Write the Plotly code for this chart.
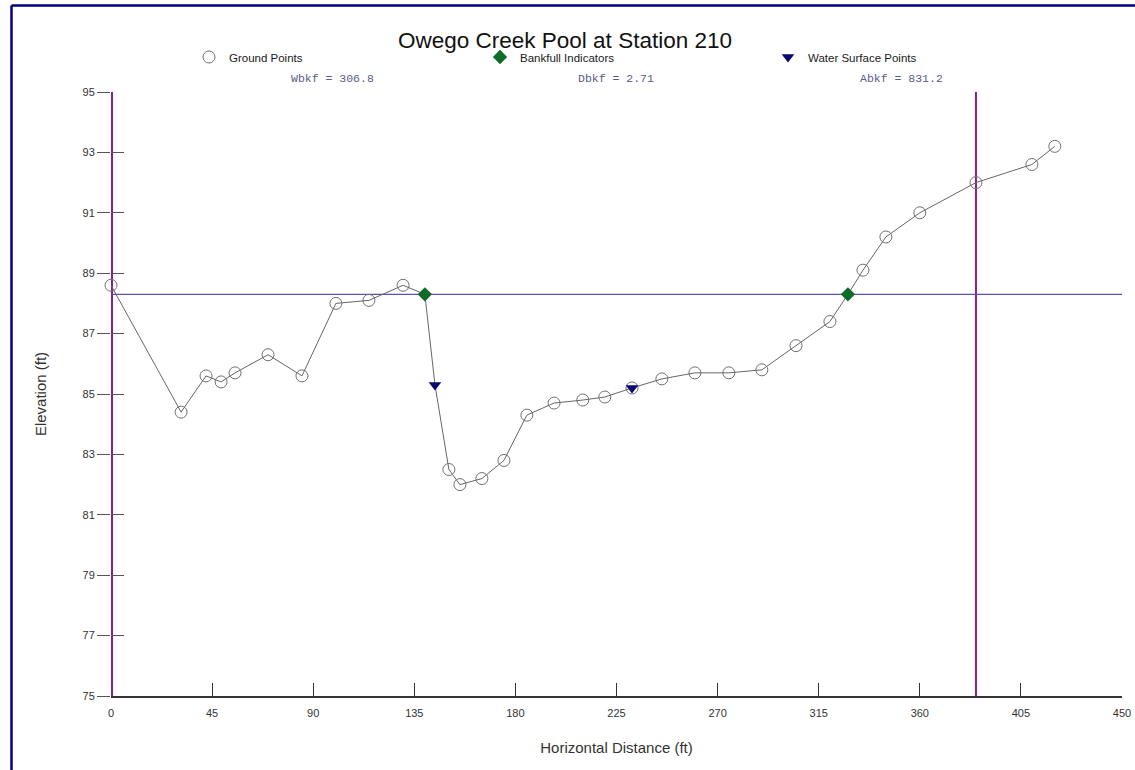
import plotly.graph_objects as go

# ---- data ----
ground_x = [0, 31.2, 42.3, 49, 55.2, 69.9, 85, 100.1, 114.8, 130, 150.4, 155.3, 165.1, 174.9,
            185.1, 197.2, 210, 219.8, 231.9, 245.2, 259.9, 275, 289.7, 304.9, 320, 334.7,
            344.9, 360, 385, 409.9, 420.1]
ground_y = [88.6, 84.4, 85.6, 85.4, 85.7, 86.3, 85.6, 88.0, 88.1, 88.6, 82.5, 82.0, 82.2, 82.8,
            84.3, 84.7, 84.8, 84.9, 85.2, 85.5, 85.7, 85.7, 85.8, 86.6, 87.4, 89.1,
            90.2, 91.0, 92.0, 92.6, 93.2]
bankfull_x = [139.7, 328.0]
bankfull_y = [88.3, 88.3]
ws_x = [144.2, 231.9]
ws_y = [85.3, 85.2]
bankfull_elev = 88.3
bankfull_line_x = [0, 450]
limit_x = [0, 385]
y_range = [75, 95]
x_range = [0, 450]
x_ticks = [0, 45, 90, 135, 180, 225, 270, 315, 360, 405, 450]
y_ticks = [75, 77, 79, 81, 83, 85, 87, 89, 91, 93, 95]
stats = ["Wbkf = 306.8", "Dbkf = 2.71", "Abkf = 831.2"]
title = "Owego Creek Pool at Station 210"

# ---- layout geometry (pixels) ----
W, H = 1135, 770
L, R, T, B = 111, 13, 92, 74
PW, PH = W - L - R, H - T - B
def px_x(p):
    return (p - L) / PW
def px_y(p):
    return (H - B - p) / PH

# profile line through all surveyed points
prof = sorted(set(zip(ground_x + bankfull_x + ws_x, ground_y + bankfull_y + ws_y)))
prof_x = [p[0] for p in prof]
prof_y = [p[1] for p in prof]

fig = go.Figure()

# limit (vertical) lines
for lx in limit_x:
    fig.add_trace(go.Scatter(x=[lx, lx], y=y_range, mode="lines",
                             line=dict(color="#8E1B8C", width=2 if lx > 0 else 4),
                             showlegend=False, hoverinfo="skip"))
# bankfull elevation line
fig.add_trace(go.Scatter(x=bankfull_line_x, y=[bankfull_elev] * len(bankfull_line_x), mode="lines",
                         line=dict(color="#5B4FB3", width=1.3), showlegend=False, hoverinfo="skip"))
# profile line
fig.add_trace(go.Scatter(x=prof_x, y=prof_y, mode="lines",
                         line=dict(color="#666666", width=1), showlegend=False, hoverinfo="skip"))
# ground points
fig.add_trace(go.Scatter(x=ground_x, y=ground_y, mode="markers", name="Ground Points",
                         marker=dict(symbol="circle-open", size=12, color="#707070", line=dict(width=1)),
                         legend="legend", cliponaxis=False))
fig.add_trace(go.Scatter(x=bankfull_x, y=bankfull_y, mode="markers", name="Bankfull Indicators",
                         marker=dict(symbol="diamond", size=11, color="#0E6B2A"),
                         legend="legend2"))
fig.add_trace(go.Scatter(x=ws_x, y=ws_y, mode="markers", name="Water Surface Points",
                         marker=dict(symbol="triangle-down", size=11, color="#0A0A6E"),
                         legend="legend3"))

# invisible trace on overlay axis to get ticks crossing the y axis
fig.add_trace(go.Scatter(x=[None], y=[None], yaxis="y2", showlegend=False, hoverinfo="skip"))

tickfont = dict(family="Liberation Sans, Arial", size=11, color="#333333")
legfont = dict(family="Liberation Sans Narrow, Arial Narrow, Liberation Sans", size=11.5, color="#1a1a1a")

fig.update_layout(
    width=W, height=H,
    margin=dict(l=L, r=R, t=T, b=B, autoexpand=False),
    paper_bgcolor="white", plot_bgcolor="white",
    title=dict(text=title, x=565 / W, xanchor="center", y=1 - 40 / H, yanchor="middle",
               xref="container", yref="container",
               font=dict(family="Liberation Sans, Arial", size=22.5, color="#111111")),
    xaxis=dict(range=x_range, tickvals=x_ticks, ticktext=[str(v) for v in x_ticks],
               ticks="inside", ticklen=13, tickcolor="#333333", tickwidth=1.2,
               showline=True, linecolor="#333333", linewidth=1.5,
               showgrid=False, zeroline=False, tickfont=tickfont, ticklabelstandoff=6,
               title=dict(text="Horizontal Distance (ft)", standoff=25,
                          font=dict(family="Liberation Sans, Arial", size=15, color="#333333"))),
    yaxis=dict(range=y_range, tickvals=y_ticks, ticktext=[str(v) for v in y_ticks],
               ticks="outside", ticklen=13, tickcolor="#555555", tickwidth=1,
               showline=False, showgrid=False, zeroline=False, tickfont=tickfont,
               title=dict(text="Elevation (ft)", standoff=32,
                          font=dict(family="Liberation Sans, Arial", size=15, color="#333333"))),
    yaxis2=dict(range=y_range, tickvals=y_ticks, overlaying="y", side="left", anchor="x",
                ticks="inside", ticklen=13, tickcolor="#555555", tickwidth=1,
                showticklabels=False, showline=False, showgrid=False, zeroline=False),
    legend=dict(orientation="h", x=px_x(189), xanchor="left", y=px_y(57), yanchor="middle",
                font=legfont, bgcolor="rgba(0,0,0,0)", itemwidth=30),
    legend2=dict(orientation="h", x=px_x(480), xanchor="left", y=px_y(57), yanchor="middle",
                 font=legfont, bgcolor="rgba(0,0,0,0)", itemwidth=30),
    legend3=dict(orientation="h", x=px_x(768), xanchor="left", y=px_y(57), yanchor="middle",
                 font=legfont, bgcolor="rgba(0,0,0,0)", itemwidth=30),
    showlegend=True,
)

# stats annotations
for txt, cx in zip(stats, [332, 616, 901]):
    fig.add_annotation(text=txt, x=px_x(cx), y=px_y(79), xref="paper", yref="paper",
                       showarrow=False, xanchor="center", yanchor="middle",
                       font=dict(family="Liberation Mono, Courier New", size=11.5, color="#5A5A8C"))

# outer frame (top and left edges visible in reference)
fig.add_shape(type="line", xref="paper", yref="paper", x0=px_x(11.5), x1=px_x(1140),
              y0=px_y(5.5), y1=px_y(5.5), line=dict(color="#000080", width=2.5))
fig.add_shape(type="line", xref="paper", yref="paper", x0=px_x(11.5), x1=px_x(11.5),
              y0=px_y(5.5), y1=px_y(775), line=dict(color="#000080", width=2.5))

fig.write_html("out.html")
